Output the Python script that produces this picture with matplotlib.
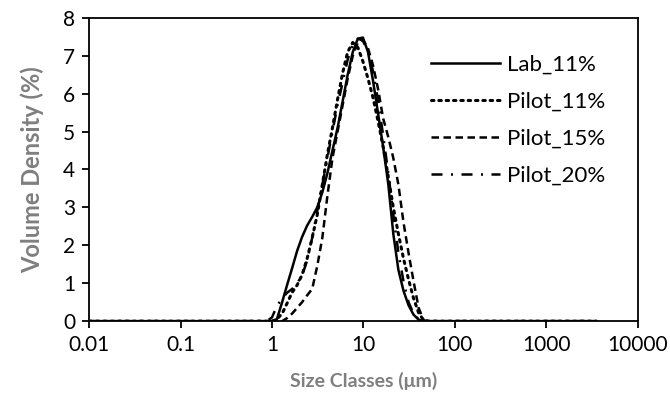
import matplotlib
matplotlib.use("Agg")
import matplotlib.pyplot as plt
from matplotlib.ticker import FixedLocator, NullLocator

plt.rcParams["font.family"] = ["Lato", "DejaVu Sans"]

# particle size classes (um)
size_um = [0.01, 0.877, 1.00, 1.13, 1.29, 1.46, 1.66, 1.88, 2.13, 2.42, 2.75,
           3.12, 3.55, 4.03, 4.58, 5.21, 5.92, 6.72, 7.64, 8.68, 9.86, 11.2,
           12.7, 14.5, 16.4, 18.7, 21.2, 24.1, 27.4, 31.1, 35.3, 40.1, 45.6,
           51.8, 3500]

lab_11 = [0, 0, 0, 0.05, 0.5, 0.95, 1.4, 1.85, 2.22, 2.52, 2.75,
          3.0, 3.4, 3.9, 4.5, 5.1, 5.8, 6.5, 7.1, 7.45, 7.48, 7.1,
          6.35, 5.45, 4.6, 3.6, 2.3, 1.35, 0.8, 0.42, 0.17, 0.04, 0,
          0, 0]

pilot_11 = [0, 0, 0, 0.05, 0.2, 0.47, 0.76, 0.95, 1.22, 1.65, 2.2,
            2.8, 3.6, 4.4, 5.1, 5.85, 6.55, 7.1, 7.35, 7.22, 6.85, 6.4,
            5.9, 5.25, 4.6, 3.8, 3.0, 2.3, 1.65, 1.1, 0.6, 0.22, 0.02,
            0, 0]

pilot_15 = [0, 0, 0, 0, 0, 0.08, 0.2, 0.35, 0.5, 0.68, 0.85,
            1.45, 2.2, 3.3, 4.3, 5.0, 5.7, 6.4, 7.0, 7.35, 7.42, 7.2,
            6.75, 6.1, 5.35, 4.85, 4.3, 3.6, 2.6, 1.8, 1.05, 0.35, 0.02,
            0, 0]

pilot_20 = [0, 0, 0.1, 0.4, 0.6, 0.75, 0.85, 1.0, 1.2, 1.6, 2.2,
            2.9, 3.6, 4.3, 5.0, 5.7, 6.3, 6.9, 7.3, 7.45, 7.4, 7.1,
            6.6, 5.8, 4.9, 3.9, 2.8, 1.8, 1.05, 0.5, 0.2, 0.05, 0,
            0, 0]

series_names = ["Lab_11%", "Pilot_11%", "Pilot_15%", "Pilot_20%"]
x_ticks = [0.01, 0.1, 1, 10, 100, 1000, 10000]
x_tick_labels = ["0.01", "0.1", "1", "10", "100", "1000", "10000"]
y_ticks = [0, 1, 2, 3, 4, 5, 6, 7, 8]

fig = plt.figure(figsize=(6.7, 4.05), dpi=100)
ax = fig.add_axes([0.133, 0.207, 0.819, 0.749])

styles = [
    dict(linestyle="-", linewidth=1.8),
    dict(linestyle=(0, (0.8, 1.6)), linewidth=2.2, dash_capstyle="round"),
    dict(linestyle=(0, (3.0, 1.8)), linewidth=1.8),
    dict(linestyle=(0, (4.4, 3.4, 0.8, 3.4)), linewidth=1.8),
]
for values, name, style in zip([lab_11, pilot_11, pilot_15, pilot_20], series_names, styles):
    ax.plot(size_um, values, color="black", label=name, **style)

ax.set_xscale("log")
ax.set_xlim(0.01, 10000)
ax.set_ylim(0, 8)
ax.xaxis.set_major_locator(FixedLocator(x_ticks))
ax.xaxis.set_minor_locator(NullLocator())
ax.set_xticks(x_ticks)
ax.set_xticklabels(x_tick_labels)
ax.set_yticks(y_ticks)

for side in ["left", "bottom", "top", "right"]:
    ax.spines[side].set_linewidth(1.3)
    ax.spines[side].set_color("black")
ax.tick_params(axis="both", direction="out", length=5, width=1.3,
               labelsize=15, colors="black", pad=5)

ax.set_xlabel("Size Classes (\u03bcm)", fontsize=14, fontweight="bold",
              color="#7f7f7f", labelpad=12)
ax.set_ylabel("Volume Density (%)", fontsize=17, fontweight="bold",
              color="#7f7f7f", labelpad=14)

ax.legend(loc="upper left", bbox_to_anchor=(0.623, 0.878), frameon=False,
          borderpad=0, borderaxespad=0, fontsize=16, handlelength=3.1,
          handletextpad=0.3, labelspacing=0.76)

fig.savefig("out.png", dpi=100)
